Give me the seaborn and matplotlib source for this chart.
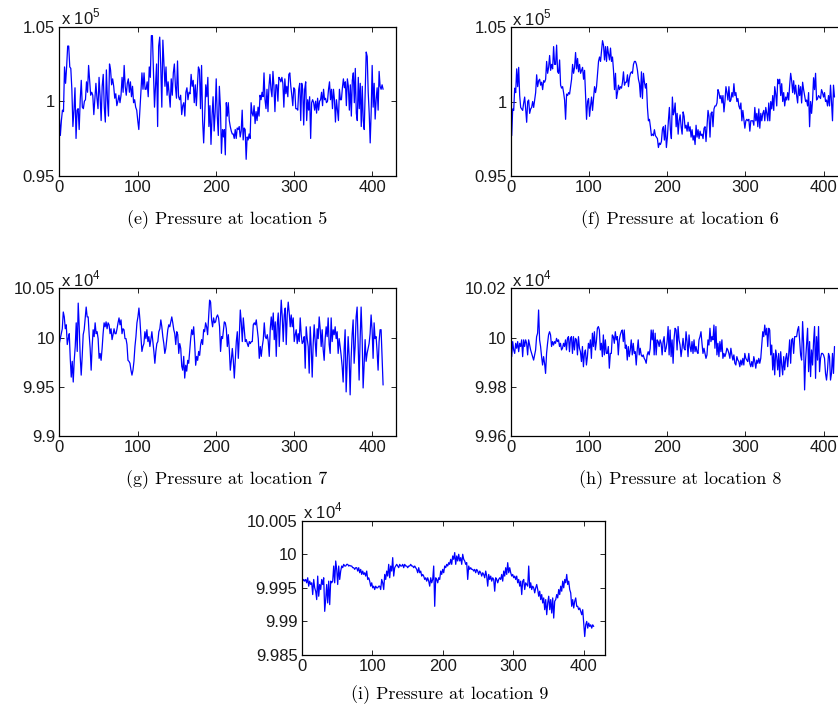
import numpy as np
import pandas as pd
import matplotlib
matplotlib.use("Agg")
import matplotlib.pyplot as plt
import seaborn as sns

# ---------------------------------------------------------------------------
# Pressure records at five probe locations (values in the units shown on the
# y axis, i.e. multiplied by the factor printed at the top-left of each panel).
# Locations 5-7 are given as two consecutive stretches of the record.
# ---------------------------------------------------------------------------
pressure_loc5_a = [
    0.990, 0.977, 0.987, 0.994, 0.993, 1.023, 1.012, 1.023, 1.037, 1.037,
    1.023, 1.022, 1.008, 0.983, 0.994, 1.009, 0.975, 0.994, 0.995, 0.981,
    1.001, 1.014, 0.996, 0.995, 1.000, 1.001, 1.013, 1.006, 1.024, 1.014,
    1.004, 1.006, 1.004, 0.991, 1.002, 1.012, 1.002, 0.995, 1.016, 1.003,
    0.987, 1.010, 1.018, 0.996, 0.986, 1.021, 1.001, 0.990, 1.025, 1.021,
    1.011, 1.015, 1.010, 1.002, 1.005, 0.997, 1.000, 1.004, 0.999, 1.004,
    1.016, 1.006, 1.024, 1.010, 1.004, 1.012, 1.015, 1.006, 1.013, 1.003,
    1.010, 0.999, 1.001, 0.996, 0.994, 0.987, 0.981, 0.993, 1.006, 1.019,
    1.008, 1.019, 1.008, 1.008, 1.013, 1.003, 1.023, 1.016, 1.044, 1.044,
    1.019, 0.996, 1.010, 1.025, 0.983, 1.037, 1.043, 1.023, 0.996, 1.041,
    1.025, 1.010, 1.023, 1.004, 1.013, 1.005, 0.996, 1.015, 1.004, 1.019,
    1.025, 1.010, 1.002, 1.027, 1.003, 1.001, 1.004, 0.991, 0.997, 0.999,
    0.990, 1.006, 1.009, 1.001, 1.006, 1.005, 1.018, 1.010, 1.014, 0.999,
    1.011, 0.997, 1.010, 1.023, 1.021, 0.995, 1.024, 0.987, 0.972, 0.990,
    1.011, 1.003, 1.016, 0.983, 0.997, 0.971, 0.990, 1.003, 0.980, 0.993,
    1.015, 0.990, 0.977, 1.010, 0.996, 0.965, 0.981, 0.976,
]
pressure_loc5_b = [
    0.981, 0.964, 0.999, 0.990, 0.999, 0.987, 0.983, 0.980, 0.978, 0.978,
    0.975, 0.981, 0.975, 0.982, 0.981, 0.983, 0.976, 0.980, 0.994, 0.974,
    0.982, 0.981, 0.961, 0.976, 0.974, 0.978, 0.975, 0.999, 0.992, 0.990,
    0.997, 0.985, 0.993, 0.987, 0.996, 0.990, 1.004, 1.001, 1.006, 1.003,
    1.019, 1.001, 0.995, 1.008, 0.993, 1.010, 1.018, 1.008, 1.003, 1.020,
    1.010, 0.993, 1.011, 1.011, 1.000, 1.016, 1.015, 1.013, 1.016, 1.012,
    0.996, 1.015, 1.005, 1.010, 1.003, 1.018, 1.019, 1.010, 1.004, 0.997,
    1.009, 1.008, 0.995, 0.995, 0.994, 1.008, 1.012, 0.987, 1.012, 1.008,
    0.984, 1.008, 1.013, 0.987, 1.001, 0.994, 1.003, 0.975, 0.999, 1.001,
    0.999, 0.994, 1.000, 0.992, 1.002, 0.994, 1.000, 1.001, 1.006, 0.997,
    1.008, 1.001, 1.002, 0.999, 1.000, 1.008, 1.013, 1.001, 1.008, 0.995,
    1.008, 1.001, 0.986, 1.001, 0.994, 0.987, 1.008, 1.001, 1.001, 1.009,
    1.015, 1.009, 1.013, 0.997, 1.015, 1.010, 0.994, 1.011, 0.990, 1.014,
    1.019, 0.999, 1.022, 0.992, 0.987, 1.016, 0.995, 1.012, 0.983, 1.010,
    0.987, 0.981, 1.006, 1.033, 1.030, 1.006, 0.992, 0.972, 0.993, 1.024,
    0.996, 1.012, 0.988, 1.001, 1.009, 0.994, 1.020, 1.010, 1.008, 1.011,
    1.008,
]

pressure_loc6_a = [
    0.983, 0.977, 0.995, 0.994, 1.009, 1.006, 1.022, 1.010, 1.023, 1.004,
    0.996, 0.995, 0.994, 0.999, 1.003, 0.995, 0.986, 1.000, 1.001, 0.992,
    0.995, 0.996, 1.000, 0.996, 1.001, 1.006, 1.018, 1.010, 1.014, 1.015,
    1.011, 1.013, 1.008, 1.014, 1.013, 1.015, 1.027, 1.019, 1.023, 1.031,
    1.021, 1.025, 1.022, 1.037, 1.025, 1.025, 1.038, 1.020, 1.019, 1.028,
    1.011, 1.009, 1.010, 1.006, 1.001, 0.988, 1.005, 1.004, 1.006, 1.005,
    1.010, 1.015, 1.025, 1.019, 1.023, 1.033, 1.022, 1.029, 1.020, 1.025,
    1.019, 1.021, 1.023, 1.015, 1.021, 1.004, 0.988, 1.000, 1.002, 0.990,
    0.997, 1.003, 0.994, 1.002, 1.010, 1.006, 1.010, 1.019, 1.027, 1.030,
    1.027, 1.034, 1.041, 1.038, 1.028, 1.037, 1.027, 1.037, 1.032, 1.028,
    1.036, 1.027, 1.030, 1.021, 1.008, 1.019, 1.002, 1.006, 1.011, 1.008,
    1.010, 1.009, 1.013, 1.020, 1.011, 1.013, 1.013, 1.018, 1.010, 1.016,
    1.019, 1.020, 1.019, 1.025, 1.027, 1.027, 1.025, 1.021, 1.015, 1.012,
    1.003, 1.020, 1.002, 1.019, 1.013, 1.009, 1.012, 0.996, 0.987, 0.988,
    0.983, 0.977, 0.978, 0.977, 0.981, 0.977, 0.976, 0.975, 0.969, 0.972,
    0.971, 0.973, 0.981, 0.983, 0.974, 0.984, 0.969, 0.976, 0.987, 0.996,
    0.981, 0.975, 1.003, 0.991,
]
pressure_loc6_b = [
    0.993, 0.999, 0.983, 0.992, 0.978, 0.987, 0.991, 0.983, 0.978, 0.993,
    0.990, 0.982, 0.984, 0.980, 0.986, 0.980, 0.983, 0.976, 0.981, 0.974,
    0.977, 0.971, 0.984, 0.976, 0.981, 0.975, 0.980, 0.977, 0.978, 0.975,
    0.982, 0.983, 0.973, 0.984, 0.994, 0.990, 0.976, 0.992, 0.993, 0.983,
    0.995, 0.997, 0.997, 0.999, 1.008, 1.006, 1.002, 1.004, 0.999, 1.004,
    0.993, 1.000, 1.010, 1.006, 1.001, 1.010, 1.000, 1.001, 1.006, 1.003,
    1.012, 1.004, 1.006, 1.000, 1.002, 0.997, 0.995, 0.999, 0.987, 0.994,
    0.988, 0.982, 0.987, 0.988, 0.987, 0.988, 0.980, 0.987, 0.987, 0.987,
    0.984, 0.996, 0.987, 0.992, 0.983, 0.995, 0.982, 0.992, 0.987, 0.992,
    0.994, 0.987, 0.996, 0.992, 0.987, 0.999, 0.987, 1.000, 0.995, 1.004,
    0.994, 1.010, 1.005, 0.997, 1.015, 1.012, 1.015, 1.004, 1.012, 1.000,
    1.006, 0.997, 1.003, 1.001, 1.006, 1.001, 1.011, 1.019, 1.014, 1.006,
    1.014, 1.005, 1.011, 1.004, 0.999, 1.011, 1.004, 1.010, 0.999, 1.013,
    1.008, 1.004, 1.000, 1.001, 0.997, 1.006, 0.983, 1.000, 0.992, 1.001,
    1.016, 1.008, 1.019, 1.001, 1.002, 1.004, 1.003, 1.002, 1.008, 1.006,
    1.003, 1.006, 1.000, 1.001, 0.997, 1.004, 0.997, 1.011, 1.000, 0.987,
    1.011, 1.003,
]

pressure_loc7_a = [
    9.994, 9.999, 10.004, 10.009, 10.026, 10.021, 10.009, 10.013, 9.993, 9.999,
    10.004, 9.979, 9.960, 9.976, 9.955, 9.977, 9.991, 10.015, 9.986, 10.035,
    10.011, 9.981, 9.962, 9.981, 10.003, 10.008, 10.020, 10.031, 10.021, 10.021,
    10.003, 9.989, 9.967, 9.991, 10.008, 10.001, 10.015, 10.004, 10.006, 9.999,
    9.979, 9.984, 9.977, 9.989, 10.004, 10.015, 10.011, 10.016, 10.009, 10.015,
    10.013, 10.004, 10.009, 9.998, 10.003, 10.009, 10.004, 10.004, 10.009, 10.015,
    10.020, 10.013, 10.018, 10.004, 10.009, 10.008, 9.999, 9.999, 9.993, 9.977,
    9.976, 9.974, 9.967, 9.962, 9.967, 9.976, 9.991, 10.001, 10.015, 10.021,
    10.030, 10.018, 10.001, 9.986, 9.991, 9.994, 10.006, 9.999, 10.008, 9.996,
    10.001, 9.991, 9.998, 10.006, 9.996, 9.986, 9.974, 9.986, 9.994, 9.996,
    10.006, 10.009, 10.018, 10.011, 10.001, 9.994, 9.984, 9.989, 9.999, 10.008,
    10.013, 10.011, 10.016, 10.021, 10.015, 10.008, 10.004, 9.993, 10.006, 10.003,
    9.984, 9.994, 9.989, 9.971, 9.967, 9.981, 9.959, 9.972, 9.966, 9.977,
    9.974, 9.986, 9.999, 10.008, 10.003, 10.011, 9.994, 9.972, 9.981, 9.977,
    9.986, 9.982, 9.993, 9.998, 9.993, 10.008, 10.006, 10.015, 10.011, 10.003,
    10.021, 10.038, 10.036, 10.018, 10.011, 10.020, 10.015, 10.016, 10.021, 10.023,
    10.020, 10.011, 9.986, 10.001, 9.999, 10.009,
]
pressure_loc7_b = [
    10.016, 10.015, 10.009, 9.991, 10.003, 9.988, 9.967, 9.977, 9.989, 9.977,
    9.959, 9.977, 9.996, 10.006, 9.979, 10.001, 10.028, 10.015, 9.996, 10.020,
    10.008, 9.996, 9.998, 9.994, 9.991, 9.996, 9.994, 9.996, 9.996, 10.013,
    10.015, 10.013, 10.018, 10.008, 9.999, 9.979, 9.991, 9.981, 9.991, 9.998,
    10.015, 10.001, 9.999, 10.003, 9.996, 9.981, 10.009, 10.021, 10.008, 10.025,
    9.998, 10.016, 9.981, 10.013, 10.025, 9.991, 10.016, 10.038, 10.021, 9.996,
    10.023, 10.030, 9.993, 10.023, 10.036, 10.025, 10.011, 10.023, 10.011, 10.020,
    9.996, 10.003, 10.008, 9.994, 10.004, 9.996, 10.020, 10.003, 9.994, 9.996,
    10.001, 9.969, 10.011, 9.999, 9.991, 9.964, 10.011, 9.991, 9.960, 9.994,
    10.013, 9.996, 9.981, 10.009, 9.999, 10.021, 10.009, 9.991, 10.008, 9.988,
    9.977, 9.999, 10.011, 10.001, 10.020, 9.993, 9.984, 10.020, 9.996, 10.008,
    10.003, 10.011, 9.999, 10.006, 9.984, 9.999, 9.991, 9.982, 9.971, 9.955,
    9.988, 10.008, 9.945, 9.972, 10.001, 9.981, 9.942, 9.979, 10.003, 10.018,
    9.974, 9.991, 10.021, 10.031, 9.993, 9.957, 9.998, 10.031, 10.001, 9.949,
    9.972, 9.998, 9.976, 9.984, 9.989, 9.994, 10.004, 10.023, 10.008, 9.979,
    10.015, 9.999, 10.001, 9.986, 9.967, 9.996, 10.008, 10.008, 9.981, 9.952,
]

pressure_loc8 = [
    9.9991, 9.9923, 9.9984, 9.9950, 9.9936, 9.9977, 9.9957, 9.9984, 9.9943, 9.9977,
    9.9964, 9.9991, 9.9923, 9.9991, 9.9964, 9.9991, 9.9977, 9.9930, 9.9991, 9.9970,
    9.9950, 9.9936, 9.9923, 9.9909, 9.9930, 9.9950, 10.0004, 10.0018, 10.0112, 9.9991,
    9.9964, 9.9923, 9.9889, 9.9923, 9.9896, 9.9855, 9.9936, 9.9977, 10.0011, 10.0024,
    10.0011, 9.9964, 9.9984, 9.9970, 9.9984, 9.9977, 9.9997, 9.9984, 9.9991, 9.9964,
    9.9977, 9.9950, 9.9957, 9.9977, 9.9964, 9.9991, 9.9950, 9.9997, 10.0004, 9.9943,
    9.9997, 10.0004, 9.9936, 10.0004, 9.9950, 9.9997, 9.9991, 9.9930, 10.0004, 9.9957,
    9.9943, 9.9903, 9.9964, 9.9882, 9.9936, 9.9950, 9.9889, 9.9923, 9.9977, 9.9957,
    9.9991, 9.9916, 10.0018, 9.9964, 10.0024, 9.9950, 9.9984, 10.0038, 10.0045, 10.0031,
    9.9950, 9.9977, 9.9923, 10.0011, 9.9930, 9.9991, 9.9936, 9.9936, 9.9964, 9.9876,
    9.9936, 9.9936, 10.0011, 10.0004, 9.9977, 10.0024, 9.9991, 10.0004, 9.9930, 9.9991,
    10.0011, 10.0024, 10.0031, 9.9984, 10.0031, 9.9957, 9.9970, 9.9909, 9.9964, 9.9923,
    9.9950, 9.9991, 9.9930, 9.9977, 9.9936, 9.9943, 9.9889, 9.9950, 9.9991, 9.9930,
    9.9957, 9.9930, 9.9923, 9.9930, 9.9916, 9.9909, 9.9896, 9.9930, 9.9943, 9.9930,
    9.9957, 10.0031, 9.9991, 10.0031, 9.9930, 10.0018, 9.9930, 9.9991, 9.9984, 9.9964,
    9.9991, 9.9977, 9.9930, 9.9984, 10.0004, 9.9943, 9.9957, 9.9984, 10.0045, 9.9930,
    10.0031, 9.9923, 9.9991, 9.9896, 9.9997, 10.0038, 10.0031, 9.9950, 10.0045, 9.9991,
    9.9970, 9.9923, 9.9957, 9.9997, 9.9957, 9.9950, 10.0024, 9.9984, 9.9923, 10.0011,
    9.9964, 9.9943, 9.9984, 9.9936, 9.9991, 9.9943, 9.9964, 9.9943, 9.9936, 9.9991,
    10.0004, 10.0024, 9.9977, 9.9936, 9.9957, 9.9936, 9.9916, 9.9930, 9.9991, 9.9970,
    10.0038, 9.9984, 10.0004, 9.9991, 10.0051, 9.9957, 10.0045, 9.9930, 9.9977, 9.9923,
    9.9984, 9.9943, 9.9991, 9.9916, 9.9936, 9.9923, 9.9936, 9.9957, 9.9950, 9.9936,
    9.9916, 9.9957, 9.9930, 9.9909, 9.9930, 9.9896, 9.9889, 9.9923, 9.9909, 9.9903,
    9.9882, 9.9909, 9.9889, 9.9916, 9.9889, 9.9936, 9.9916, 9.9909, 9.9903, 9.9936,
    9.9896, 9.9882, 9.9903, 9.9882, 9.9923, 9.9903, 9.9876, 9.9909, 9.9896, 9.9916,
    9.9896, 9.9916, 9.9970, 10.0024, 10.0004, 10.0051, 10.0011, 10.0038, 9.9964, 10.0038,
    10.0031, 9.9930, 9.9970, 9.9869, 9.9936, 9.9849, 9.9950, 9.9923, 9.9869, 9.9936,
    9.9842, 9.9943, 9.9889, 9.9849, 9.9923, 9.9869, 9.9916, 9.9936, 9.9882, 9.9930,
    9.9991, 9.9896, 9.9991, 9.9997, 9.9936, 10.0004, 10.0004, 10.0004, 10.0031, 10.0045,
    9.9991, 9.9930, 9.9909, 10.0065, 9.9977, 9.9788, 9.9909, 9.9977, 10.0038, 9.9862,
    9.9984, 9.9842, 9.9950, 9.9889, 9.9984, 10.0045, 9.9835, 10.0004, 9.9909, 10.0045,
    9.9862, 9.9916, 9.9936, 9.9936, 9.9930, 9.9916, 9.9855, 9.9828, 9.9869, 9.9936,
    9.9923, 9.9828, 9.9855, 9.9936, 9.9855, 9.9964,
]

pressure_loc9 = [
    9.99675, 9.9960, 9.99625, 9.9960, 9.99625, 9.99575, 9.9965, 9.99525, 9.9960, 9.9955,
    9.99575, 9.9940, 9.99625, 9.9950, 9.9945, 9.99325, 9.99675, 9.99375, 9.9955, 9.99475,
    9.99625, 9.9955, 9.9965, 9.9915, 9.99325, 9.9955, 9.99275, 9.9960, 9.9925, 9.9960,
    9.99575, 9.9960, 9.99825, 9.99575, 9.9990, 9.99775, 9.9955, 9.99825, 9.99625, 9.9975,
    9.99825, 9.9980, 9.9985, 9.99825, 9.99825, 9.9985, 9.9985, 9.99825, 9.99835, 9.99825,
    9.99825, 9.9980, 9.9980, 9.99775, 9.9980, 9.9980, 9.9975, 9.9980, 9.99725, 9.99775,
    9.9970, 9.9975, 9.9970, 9.99725, 9.99675, 9.9975, 9.99625, 9.9965, 9.9960, 9.99525,
    9.99575, 9.9950, 9.99525, 9.99475, 9.99525, 9.9950, 9.9950, 9.99525, 9.99525, 9.99475,
    9.99625, 9.99575, 9.99475, 9.9970, 9.99625, 9.9975, 9.99675, 9.9985, 9.9965, 9.99825,
    9.9975, 9.9995, 9.99675, 9.9980, 9.99825, 9.9985, 9.99825, 9.9980, 9.9985, 9.99825,
    9.99825, 9.9985, 9.9980, 9.9985, 9.99825, 9.99825, 9.9980, 9.99825, 9.99825, 9.9985,
    9.99825, 9.99825, 9.9980, 9.99825, 9.9980, 9.99775, 9.99725, 9.9980, 9.99725, 9.9975,
    9.99675, 9.9970, 9.99675, 9.99625, 9.9965, 9.9960, 9.9965, 9.9960, 9.99525, 9.9965,
    9.99575, 9.99625, 9.99825, 9.99225, 9.9965, 9.99625, 9.99575, 9.9965, 9.99625, 9.9975,
    9.9970, 9.99775, 9.99725, 9.99825, 9.9980, 9.9985, 9.99825, 9.99875, 9.9985, 9.99925,
    9.9985, 9.99975, 9.99925, 10.00025, 9.9985, 9.99975, 9.9990, 10.0000, 9.9990, 9.9995,
    9.9985, 10.0000, 9.99925, 9.9990, 9.9985, 9.99875, 9.99625, 9.99825, 9.99775, 9.9980,
    9.99775, 9.99775, 9.9975, 9.99775, 9.99725, 9.99775, 9.9975, 9.9970, 9.9975, 9.99725,
    9.99675, 9.99725, 9.9970, 9.9965, 9.9975, 9.99675, 9.99525, 9.9970, 9.99625, 9.99675,
    9.9960, 9.9965, 9.99625, 9.9945, 9.9965, 9.99625, 9.99575, 9.99625, 9.9965, 9.99625,
    9.9970, 9.9960, 9.9975, 9.99675, 9.9980, 9.9970, 9.99875, 9.99725, 9.9980, 9.99725,
    9.99675, 9.9970, 9.9965, 9.99675, 9.99625, 9.99675, 9.99575, 9.99625, 9.99525, 9.9960,
    9.9940, 9.9960, 9.99625, 9.99475, 9.99575, 9.9955, 9.99525, 9.99825, 9.9950, 9.99575,
    9.99475, 9.99525, 9.9950, 9.99425, 9.9950, 9.9955, 9.99475, 9.99375, 9.9945, 9.99325,
    9.9940, 9.99275, 9.9935, 9.99175, 9.99325, 9.9910, 9.99275, 9.99375, 9.99175, 9.99325,
    9.99125, 9.9935, 9.9905, 9.9930, 9.99325, 9.9940, 9.9935, 9.99475, 9.9940, 9.99525,
    9.9945, 9.9960, 9.9950, 9.99625, 9.99575, 9.9970, 9.9955, 9.9960, 9.99475, 9.99425,
    9.99225, 9.99325, 9.9920, 9.9930, 9.9935, 9.99225, 9.99225, 9.99175, 9.9920, 9.9915,
    9.9910, 9.99175, 9.98975, 9.98775, 9.9895, 9.9900, 9.9890, 9.98975, 9.98925, 9.9895,
    9.9890, 9.9895, 9.98925,
]

# sample index where each listed stretch of a record begins and ends
stretches = [
    [(pressure_loc5_a, 0, 210), (pressure_loc5_b, 211, 414)],
    [(pressure_loc6_a, 0, 208), (pressure_loc6_b, 209, 414)],
    [(pressure_loc7_a, 0, 210), (pressure_loc7_b, 211, 414)],
    [(pressure_loc8, 0, 414)],
    [(pressure_loc9, 0, 414)],
]

captions = [
    "(e) Pressure at location 5",
    "(f) Pressure at location 6",
    "(g) Pressure at location 7",
    "(h) Pressure at location 8",
    "(i) Pressure at location 9",
]
exponents = [5, 5, 4, 4, 4]
y_ticks = [
    [0.95, 1.0, 1.05],
    [0.95, 1.0, 1.05],
    [9.9, 9.95, 10.0, 10.05],
    [9.96, 9.98, 10.0, 10.02],
    [9.985, 9.99, 9.995, 10.0, 10.005],
]
x_ticks = [0, 100, 200, 300, 400]

# ---------------------------------------------------------------------------
# Figure layout (pixel boxes: left, top, right, bottom) and caption centres
# ---------------------------------------------------------------------------
W, H = 838, 713
boxes = [
    (59.3, 26.7, 395.6, 175.7),
    (510.7, 27.3, 847.0, 175.7),
    (59.3, 288.3, 395.6, 436.3),
    (510.7, 288.3, 847.0, 436.3),
    (301.7, 520.7, 605.0, 655.0),
]
caption_xy = [(227, 220), (680, 220), (227, 480), (680, 480), (450, 695)]

sns.set_theme(style="white")
plt.rcParams["font.family"] = ["Liberation Sans", "DejaVu Sans"]
plt.rcParams["axes.edgecolor"] = "black"
plt.rcParams["axes.linewidth"] = 0.9

fig = plt.figure(figsize=(W / 100, H / 100), dpi=100)

for parts, cap, expo, yt, box, cxy in zip(stretches, captions, exponents, y_ticks, boxes, caption_xy):
    l, t, r, b = box
    ax = fig.add_axes([l / W, 1 - b / H, (r - l) / W, (b - t) / H])
    df = pd.concat([
        pd.DataFrame({"sample": np.linspace(s0, s1, len(v)), "pressure": v})
        for v, s0, s1 in parts
    ], ignore_index=True)
    sns.lineplot(data=df, x="sample", y="pressure", ax=ax, color="#0000ff",
                 linewidth=0.9, estimator=None, sort=False)
    ax.set_xlim(0, 430)
    ax.set_ylim(yt[0], yt[-1])
    ax.set_xticks(x_ticks)
    ax.set_xticklabels([str(v) for v in x_ticks])
    ax.set_yticks(yt)
    ax.set_yticklabels(["%g" % v for v in yt])
    ax.set_xlabel("")
    ax.set_ylabel("")
    ax.tick_params(direction="in", length=3.5, width=0.6, color="black",
                   top=True, right=True, bottom=True, left=True,
                   labelsize=12, labelcolor="#1a1a1a", pad=3)
    for sp in ax.spines.values():
        sp.set_color("black")
        sp.set_linewidth(0.9)
    ax.annotate(r"x 10$^{\mathregular{%d}}$" % expo, xy=(0, 1), xycoords="axes fraction",
                xytext=(1, 1.5), textcoords="offset points", ha="left", va="baseline",
                fontsize=12, color="#1a1a1a")
    fig.text(cxy[0] / W, 1 - cxy[1] / H, cap, ha="center", va="center",
             fontfamily="cmr10", fontsize=13, color="black")

fig.savefig("out.png", dpi=100)
